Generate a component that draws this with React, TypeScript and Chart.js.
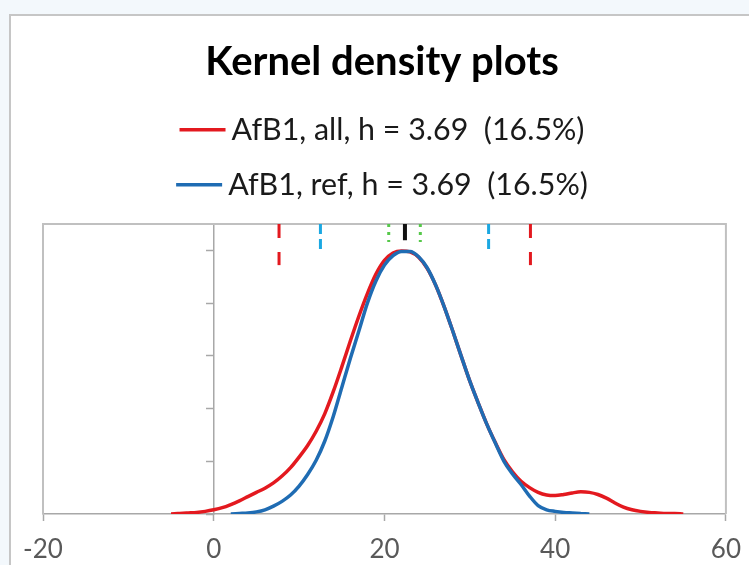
import React, { useEffect, useRef } from 'react';
import { Chart, registerables } from 'chart.js';

Chart.register(...registerables);

const titleText = 'Kernel density plots';
const seriesLabels = ['AfB1, all, h = 3.69  (16.5%)', 'AfB1, ref, h = 3.69  (16.5%)'];

const allX = [-5, -4, -3, -2, -1, 0, 1, 2, 3, 4, 5, 6, 7, 8, 9, 10, 11, 12, 13, 14, 15, 16, 17, 18, 19, 20, 21, 22, 23, 24, 25, 26, 27, 28, 29, 30, 31, 32, 33, 34, 35, 36, 37, 38, 39, 40, 41, 42, 43, 44, 45, 46, 47, 48, 49, 50, 51, 52, 53, 54, 55];
const allDensity = [0.0, 0.0001, 0.0002, 0.0003, 0.0005, 0.0008, 0.0012, 0.0018, 0.0025, 0.0033, 0.0041, 0.0049, 0.0059, 0.0072, 0.0088, 0.0108, 0.013, 0.0157, 0.019, 0.0232, 0.0279, 0.0328, 0.0375, 0.0418, 0.0455, 0.0481, 0.0495, 0.0499, 0.0497, 0.0487, 0.0466, 0.0434, 0.0393, 0.0347, 0.0299, 0.0252, 0.021, 0.017, 0.0135, 0.0103, 0.008, 0.0062, 0.005, 0.0041, 0.0036, 0.0035, 0.0037, 0.004, 0.0042, 0.0041, 0.0037, 0.003, 0.0021, 0.0013, 0.0008, 0.0005, 0.0003, 0.0002, 0.0001, 0.0001, 0.0];

const refX = [2, 3, 4, 5, 6, 7, 8, 9, 10, 11, 12, 13, 14, 15, 16, 17, 18, 19, 20, 21, 22, 23, 24, 25, 26, 27, 28, 29, 30, 31, 32, 33, 34, 35, 36, 37, 38, 39, 40, 41, 42, 43, 44];
const refDensity = [0.0, 0.0001, 0.0002, 0.0004, 0.0008, 0.0015, 0.0024, 0.0036, 0.0053, 0.0075, 0.0102, 0.0138, 0.0185, 0.024, 0.0295, 0.0347, 0.04, 0.0442, 0.0472, 0.049, 0.0498, 0.0498, 0.0488, 0.0467, 0.0434, 0.0393, 0.0347, 0.0299, 0.0252, 0.021, 0.017, 0.0134, 0.01, 0.0076, 0.0056, 0.0034, 0.0016, 0.0008, 0.0005, 0.0003, 0.0002, 0.0001, 0.0];

const allLimits = [7.65, 37.1];
const refLimits = [12.5, 32.2];
const ciLimits = [20.5, 24.2];
const medianValue = 22.4;
const markerTop = 0.055;
const allMarkerBottom = 0.0472;
const refMarkerBottom = 0.05;
const ciMarkerBottom = 0.0516;
const medianMarkerBottom = 0.0519;

const xTickValues = [-20, 0, 20, 40, 60];
const yTickStep = 0.01;

const RED = '#e3191f';
const BLUE = '#1f6cb3';
const SKY = '#1ba8e2';
const GREEN = '#56c84a';
const GRAY = '#a8a8a8';

const LEGEND_FONT = 30.4;
const LEGEND_LINE = 46;
const LEGEND_GAP = 6;
const LEGEND_BOX = LEGEND_LINE + LEGEND_GAP - LEGEND_FONT / 2;

const plotFrame = {
  id: 'plotFrame',
  beforeDatasetsDraw(chart: any) {
    const { ctx, chartArea } = chart;
    const { left, top, right, bottom } = chartArea;
    ctx.save();
    ctx.strokeStyle = '#c0c0c0';
    ctx.lineWidth = 2;
    ctx.beginPath();
    ctx.moveTo(left, bottom);
    ctx.lineTo(left, top);
    ctx.lineTo(right, top);
    ctx.lineTo(right, bottom);
    ctx.stroke();
    ctx.restore();
  },
};

const legendLines = {
  id: 'legendLines',
  afterDraw(chart: any) {
    const legend = chart.legend;
    if (!legend || !legend.legendHitBoxes || !legend.legendItems) return;
    const ctx = chart.ctx;
    legend.legendItems.forEach((item: any, i: number) => {
      const hb = legend.legendHitBoxes[i];
      if (!hb) return;
      const color = chart.data.datasets[item.datasetIndex].borderColor;
      const textStart = hb.left + LEGEND_BOX + LEGEND_FONT / 2;
      const y = hb.top + hb.height / 2;
      ctx.save();
      ctx.strokeStyle = color;
      ctx.lineWidth = 3.5;
      ctx.beginPath();
      ctx.moveTo(textStart - LEGEND_GAP - LEGEND_LINE, y);
      ctx.lineTo(textStart - LEGEND_GAP, y);
      ctx.stroke();
      ctx.restore();
    });
  },
};

function marker(x: number, bottom: number, color: string, width: number, dash: number[]) {
  return {
    label: 'marker',
    xAxisID: 'x',
    yAxisID: 'y',
    data: [
      { x, y: markerTop },
      { x, y: bottom },
    ],
    borderColor: color,
    backgroundColor: color,
    borderWidth: width,
    borderDash: dash,
    pointRadius: 0,
    showLine: true,
  };
}

export default function App() {
  const canvasRef = useRef<HTMLCanvasElement | null>(null);

  useEffect(() => {
    const canvas = canvasRef.current;
    if (!canvas) return;
    Chart.defaults.font.family = 'Lato, "Open Sans", sans-serif';

    const refData = refX.map((x, i) => ({ x, y: refDensity[i] }));
    const allData = allX.map((x, i) => ({ x, y: allDensity[i] }));

    const chart = new Chart(canvas, {
      type: 'line',
      data: {
        datasets: [
          {
            label: seriesLabels[1],
            xAxisID: 'x',
            yAxisID: 'y',
            data: refData,
            borderColor: BLUE,
            backgroundColor: BLUE,
            borderWidth: 3.5,
            pointRadius: 0,
            cubicInterpolationMode: 'monotone',
          },
          {
            label: seriesLabels[0],
            xAxisID: 'x',
            yAxisID: 'y',
            data: allData,
            borderColor: RED,
            backgroundColor: RED,
            borderWidth: 3.5,
            pointRadius: 0,
            cubicInterpolationMode: 'monotone',
          },
          marker(allLimits[0], allMarkerBottom, RED, 3, [14, 14]),
          marker(allLimits[1], allMarkerBottom, RED, 3, [14, 14]),
          marker(refLimits[0], refMarkerBottom, SKY, 3, [10, 5]),
          marker(refLimits[1], refMarkerBottom, SKY, 3, [10, 5]),
          marker(ciLimits[0], ciMarkerBottom, GREEN, 3, [3, 5]),
          marker(ciLimits[1], ciMarkerBottom, GREEN, 3, [3, 5]),
          marker(medianValue, medianMarkerBottom, '#111111', 4, []),
        ] as any,
      },
      options: {
        responsive: false,
        animation: false,
        layout: { padding: { top: 0, left: 38, right: 23, bottom: -14 } },
        plugins: {
          title: {
            display: true,
            text: titleText,
            color: '#000000',
            font: { size: 40, weight: 'bold' },
            padding: { top: 38, bottom: 4 },
          },
          legend: {
            display: true,
            position: 'top',
            labels: {
              color: '#1a1a1a',
              font: { size: LEGEND_FONT },
              boxWidth: LEGEND_BOX,
              boxHeight: 3,
              padding: 24.6,
              sort: (a: any, b: any) => b.datasetIndex - a.datasetIndex,
              generateLabels: (chart: any) =>
                Chart.defaults.plugins.legend.labels
                  .generateLabels(chart)
                  .filter((l: any) => l.datasetIndex < 2)
                  .map((l: any) => ({ ...l, lineWidth: 0, fillStyle: 'rgba(0,0,0,0)', strokeStyle: 'rgba(0,0,0,0)' })),
            },
          },
          tooltip: { enabled: false },
        },
        scales: {
          x: {
            type: 'linear',
            min: -20,
            max: 60,
            afterBuildTicks: (scale: any) => {
              scale.ticks = xTickValues.map((v) => ({ value: v }));
            },
            ticks: { color: '#595959', font: { size: 26, lineHeight: 1.615 }, padding: 8 },
            grid: { drawOnChartArea: false, drawTicks: true, tickLength: 7, color: GRAY, tickWidth: 1.5 },
            border: { display: true, color: GRAY, width: 1.5 },
          },
          y: {
            type: 'linear',
            position: { x: 0 } as any,
            min: 0,
            max: markerTop,
            ticks: { display: false, stepSize: yTickStep, includeBounds: false },
            grid: { drawOnChartArea: false, drawTicks: true, tickLength: 7, color: GRAY, tickWidth: 1.5 },
            border: { display: true, color: GRAY, width: 1.5 },
          },
          x2: {
            type: 'linear',
            position: 'top',
            display: true,
            min: 0,
            max: 1,
            grid: { display: false, drawTicks: false },
            ticks: { display: false },
            border: { display: false },
            title: { display: true, text: ' ', font: { size: 1 }, padding: { top: 0, bottom: 12.8 } },
          },
          y2: {
            type: 'linear',
            position: 'left',
            display: true,
            min: 0,
            max: 1,
            grid: { display: false, drawTicks: false },
            ticks: { display: false },
            border: { display: false },
            title: { display: true, text: ' ', font: { size: 1 }, padding: { top: 0, bottom: 3.8 } },
          },
        },
      } as any,
      plugins: [plotFrame, legendLines],
    });
    return () => chart.destroy();
  }, []);

  return (
    <div style={{ position: 'fixed', left: 0, top: 0, width: 749, height: 565, background: '#f3f8fc', overflow: 'hidden' }}>
      <div
        style={{
          position: 'absolute',
          left: 9,
          top: 14,
          width: 800,
          height: 600,
          background: '#ffffff',
          borderTop: '2px solid #c6c6c6',
          borderLeft: '2px solid #c6c6c6',
        }}
      />
      <canvas ref={canvasRef} width={749} height={565} style={{ position: 'absolute', left: 0, top: 0 }} />
    </div>
  );
}
